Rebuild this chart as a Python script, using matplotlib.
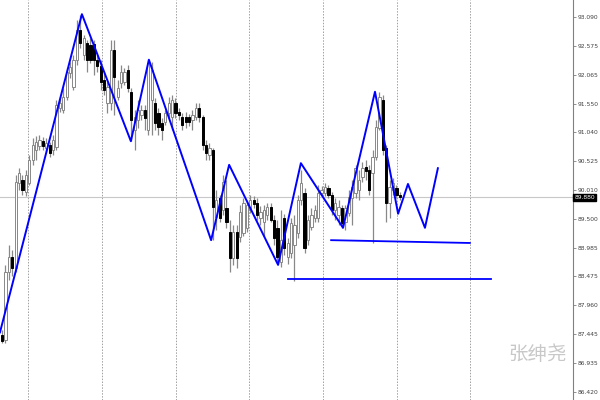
import numpy as np
import matplotlib
matplotlib.use("Agg")
import matplotlib.pyplot as plt

# candle data
opens = [87.43, 87.34, 88.55, 88.82, 88.62, 90.13, 90.19, 89.97, 90.13, 90.54,
         90.72, 90.79, 90.88, 90.76, 90.81, 90.72, 90.77, 91.47, 91.43, 91.66,
         92.09, 91.84, 92.32, 92.86, 92.41, 92.63, 92.59, 92.61, 92.32, 92.22,
         91.97, 91.56, 91.56, 92.50, 91.66, 91.91, 91.93, 92.14, 91.75, 91.08,
         91.25, 91.34, 91.43, 91.08, 91.61, 91.56, 91.38, 91.20, 91.22, 91.38,
         91.31, 91.56, 91.40, 91.31, 91.31, 91.31, 91.25, 91.31, 91.47, 91.31,
         90.81, 90.63, 90.72, 89.53, 89.87, 89.65, 89.69, 89.26, 88.80, 89.26,
         89.17, 89.24, 89.33, 89.65, 89.83, 89.79, 89.51, 89.44, 89.56, 89.71,
         89.47, 89.33, 88.73, 89.51, 88.82, 88.89, 89.03, 89.24, 89.83, 89.96,
         89.12, 89.35, 89.51, 89.51, 89.96, 89.96, 90.04, 89.92, 89.65, 89.56,
         89.69, 89.44, 89.60, 89.87, 89.96, 90.01, 90.24, 90.42, 90.36, 90.31,
         90.60, 91.11, 91.61, 90.76, 89.79, 90.01, 90.04, 89.92]
highs = [87.52, 88.67, 89.03, 88.94, 90.28, 90.40, 90.28, 90.36, 90.63, 90.93,
         90.97, 90.99, 90.95, 90.93, 90.86, 90.99, 91.61, 91.66, 91.82, 92.18,
         92.29, 92.41, 93.03, 93.12, 92.77, 92.68, 92.71, 92.68, 92.41, 92.32,
         92.11, 91.93, 92.68, 92.68, 91.97, 92.23, 92.18, 92.23, 91.82, 91.43,
         91.61, 91.52, 91.52, 92.32, 92.29, 91.65, 91.47, 91.29, 91.43, 91.66,
         91.70, 91.65, 91.47, 91.38, 91.40, 91.36, 91.43, 91.56, 91.56, 91.34,
         90.90, 90.85, 90.76, 90.01, 89.92, 90.28, 90.19, 89.47, 89.39, 89.39,
         89.74, 89.87, 89.83, 89.92, 89.90, 89.87, 89.72, 89.74, 89.78, 89.78,
         89.56, 89.47, 89.65, 89.58, 89.15, 89.51, 89.56, 89.92, 90.36, 90.04,
         89.56, 89.69, 89.74, 90.10, 90.08, 90.13, 90.10, 89.97, 89.87, 89.83,
         89.74, 89.74, 90.01, 90.19, 90.45, 90.36, 90.51, 90.54, 90.45, 90.72,
         91.25, 91.75, 91.70, 90.81, 90.19, 90.22, 90.10, 89.97]
lows = [87.29, 87.29, 88.41, 88.49, 88.55, 90.01, 89.92, 89.90, 90.10, 90.45,
        90.54, 90.72, 90.72, 90.68, 90.60, 90.63, 90.72, 91.40, 91.38, 91.61,
        92.00, 91.79, 92.23, 92.54, 92.32, 92.11, 92.27, 92.06, 92.11, 91.79,
        91.70, 91.38, 91.43, 91.34, 91.61, 91.82, 91.88, 91.75, 90.88, 90.72,
        91.11, 91.25, 91.08, 90.99, 90.99, 91.08, 90.99, 90.90, 91.17, 91.29,
        91.08, 91.29, 91.25, 91.08, 91.11, 91.15, 91.08, 91.25, 91.22, 90.72,
        90.54, 90.54, 89.12, 89.30, 89.44, 89.56, 89.33, 88.55, 88.67, 88.62,
        89.08, 89.19, 89.26, 89.60, 89.69, 89.47, 89.39, 89.19, 89.47, 89.44,
        89.03, 88.73, 88.65, 88.85, 88.70, 88.80, 88.39, 89.15, 89.74, 88.90,
        89.03, 89.30, 89.44, 89.44, 89.90, 89.90, 89.87, 89.56, 89.47, 89.39,
        89.33, 89.30, 89.55, 89.39, 89.87, 89.83, 90.15, 90.19, 89.92, 89.07,
        90.54, 91.08, 90.63, 89.44, 89.51, 89.92, 89.87, 89.83]
closes = [87.32, 88.55, 88.82, 88.62, 90.15, 90.31, 90.01, 90.28, 90.54, 90.81,
          90.86, 90.90, 90.79, 90.85, 90.67, 90.90, 91.52, 91.56, 91.66, 92.11,
          92.20, 92.32, 92.86, 92.63, 92.71, 92.32, 92.32, 92.32, 92.22, 91.93,
          91.79, 91.84, 92.50, 92.02, 91.82, 92.11, 92.11, 91.82, 91.25, 91.31,
          91.43, 91.43, 91.29, 92.27, 92.14, 91.20, 91.13, 91.08, 91.38, 91.56,
          91.61, 91.38, 91.34, 91.17, 91.22, 91.22, 91.34, 91.47, 91.31, 90.81,
          90.67, 90.76, 89.71, 89.83, 89.51, 90.15, 89.44, 88.80, 89.26, 88.80,
          89.62, 89.78, 89.74, 89.83, 89.76, 89.56, 89.62, 89.65, 89.71, 89.47,
          89.15, 88.82, 89.12, 88.98, 89.07, 89.42, 89.39, 89.83, 90.13, 88.98,
          89.47, 89.56, 89.65, 89.96, 90.01, 90.06, 89.92, 89.65, 89.79, 89.71,
          89.42, 89.69, 89.88, 90.06, 90.40, 90.19, 90.40, 90.35, 90.01, 90.60,
          91.13, 91.66, 90.72, 89.78, 90.06, 90.13, 89.92, 89.88]

# zigzag (bar index, price)
zz_bars = [-0.6, 23.5, 37.9, 43.2, 61.5, 66.8, 81.2, 87.9, 100.3, 109.7, 116.5, 119.4, 124.4, 128.2]
zz_prices = [87.48, 93.14, 90.88, 92.33, 89.12, 90.46, 88.68, 90.49, 89.34, 91.76, 89.59, 90.12, 89.34, 90.40]

# support lines
line1_bars = [96.8, 137.6]
line1_prices = [89.12, 89.07]
line2_bars = [84.1, 143.7]
line2_prices = [88.43, 88.43]

price_ticks = [93.090, 92.575, 92.065, 91.550, 91.040, 90.525, 90.010,
               89.500, 88.985, 88.475, 87.960, 87.445, 86.935, 86.420]
grid_bars = [7.65, 29.4, 51.2, 72.6, 94.4, 116.2, 137.6]
last_price = 89.880

o = np.array(opens)
h = np.array(highs)
l = np.array(lows)
c = np.array(closes)
idx = np.arange(len(o))
up = c >= o

fig = plt.figure(figsize=(6, 4), dpi=100)
ax = fig.add_axes([0, 0, 573 / 600, 1])

for gx in grid_bars:
    ax.axvline(gx, color="#a0a0a0", lw=0.7, ls=(0, (1.5, 1.5)), zorder=0)
ax.axhline(last_price, color="#c8c8c8", lw=0.8, zorder=0)

wick = "#888888"
ax.vlines(idx, l, h, color=wick, lw=0.9, zorder=2)
ax.bar(idx[up], (c - o)[up], bottom=o[up], width=0.65, color="white",
       edgecolor=wick, linewidth=0.7, zorder=3)
ax.bar(idx[~up], (o - c)[~up], bottom=c[~up], width=0.65, color="black",
       edgecolor="black", linewidth=0.7, zorder=3)

ax.plot(zz_bars, zz_prices, color="#0000ff", lw=1.4, zorder=4)
ax.plot(line1_bars, line1_prices, color="#0000ff", lw=1.3, zorder=4)
ax.plot(line2_bars, line2_prices, color="#0000ff", lw=1.3, zorder=4)

ax.set_xlim(-0.59, 167.94)
ax.set_ylim(86.277, 93.392)

for s in ["left", "top", "bottom"]:
    ax.spines[s].set_visible(False)
ax.spines["right"].set_color("#808080")
ax.spines["right"].set_linewidth(0.8)
ax.set_xticks([])
ax.yaxis.tick_right()
ax.set_yticks(price_ticks)
ax.set_yticklabels(["%.3f" % p for p in price_ticks])
ax.tick_params(axis="y", direction="out", length=2, width=0.6, pad=1.5,
               labelsize=4.3, colors="#808080", labelcolor="#404040")

ax.text(1.002, (last_price - 86.277) / (93.392 - 86.277), "%.3f" % last_price,
        transform=ax.transAxes, fontsize=4.3, color="white", va="center",
        ha="left", bbox=dict(boxstyle="square,pad=0.15", fc="black", ec="black"))

# watermark, pixel coords
ax.text(538, 400 - 355, "张绅尧", transform=None, fontsize=14, color="#c8c8c8",
        ha="center", va="center", family=["Noto Sans CJK SC", "DejaVu Sans"])

fig.savefig("out.png", dpi=100)
